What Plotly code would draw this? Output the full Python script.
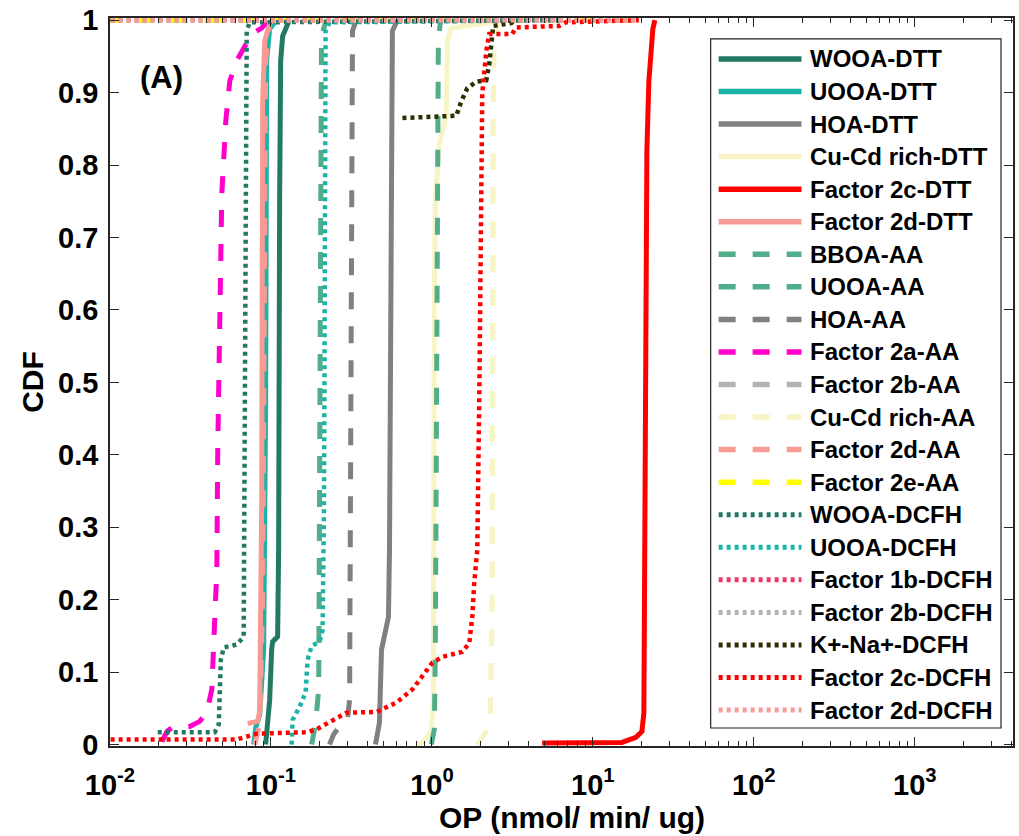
import plotly.graph_objects as go

# ---------------------------------------------------------------------------
# CDF curves of oxidative potential (OP) per source factor and assay
# values: OP in nmol/min/ug, cumulative fraction
# ---------------------------------------------------------------------------
wooa_dtt_op = [0.0927, 0.0954, 0.0982, 0.1010, 0.1024, 0.1100, 0.1116, 0.1132, 0.1149, 0.1182, 0.1269, 0.130]
wooa_dtt_cdf = [0.0, 0.028, 0.062, 0.131, 0.142, 0.149, 0.269, 0.751, 0.944, 0.978, 0.997, 1.0]

uooa_dtt_op = [0.0781, 0.0804, 0.0851, 0.0901, 0.0927, 0.0940, 0.0982, 0.1039, 0.108]
uooa_dtt_cdf = [0.0, 0.023, 0.041, 0.131, 0.475, 0.944, 0.988, 0.997, 1.0]

hoa_dtt_op = [0.446, 0.459, 0.472, 0.486, 0.507, 0.537, 0.545, 0.552, 0.560, 0.568, 0.602, 0.62]
hoa_dtt_cdf = [0.0, 0.014, 0.030, 0.131, 0.154, 0.176, 0.269, 0.613, 0.944, 0.985, 0.997, 1.0]

cucd_dtt_op = [0.812, 0.885, 0.992, 1.020, 1.035, 1.050, 1.111, 1.228, 1.246, 1.319, 1.706, 2.27, 2.4]
cucd_dtt_cdf = [0.0, 0.004, 0.018, 0.062, 0.613, 0.751, 0.829, 0.868, 0.971, 0.989, 0.993, 0.996, 1.0]

f2c_dtt_op = [4.84, 15.15, 18.50, 20.16, 20.74, 21.04, 21.34, 21.65, 22.27, 22.92, 23.58, 24.27]
f2c_dtt_cdf = [0.002, 0.003, 0.010, 0.018, 0.044, 0.338, 0.613, 0.820, 0.916, 0.964, 0.988, 1.0]

f2d_dtt_op = [0.0717, 0.0827, 0.0851, 0.0876, 0.0888, 0.0914, 0.0982, 0.103]
f2d_dtt_cdf = [0.029, 0.032, 0.046, 0.338, 0.888, 0.971, 0.996, 1.0]

bboa_aa_op = [0.179, 0.189, 0.198, 0.200, 0.203, 0.206, 0.218, 0.23]
bboa_aa_cdf = [0.0, 0.028, 0.076, 0.338, 0.888, 0.978, 0.996, 1.0]

uooa_aa_op = [0.992, 1.035, 1.050, 1.065, 1.080, 1.096, 1.127, 1.15]
uooa_aa_cdf = [0.0, 0.021, 0.131, 0.475, 0.888, 0.971, 0.996, 1.0]

hoa_aa_op = [0.231, 0.245, 0.267, 0.299, 0.308, 0.312, 0.316, 0.321, 0.335, 0.35]
hoa_aa_cdf = [0.0, 0.014, 0.025, 0.034, 0.062, 0.475, 0.944, 0.985, 0.997, 1.0]

f2a_aa_op = [0.0210, 0.0226, 0.0242, 0.0313, 0.0361, 0.0400, 0.0429, 0.0441, 0.0461, 0.0467,
             0.0481, 0.0495, 0.0524, 0.0555, 0.0613, 0.0687, 0.0759, 0.0876, 0.0954]
f2a_aa_cdf = [0.004, 0.018, 0.023, 0.025, 0.032, 0.045, 0.076, 0.145, 0.241, 0.406,
              0.613, 0.760, 0.861, 0.916, 0.944, 0.964, 0.981, 0.989, 0.999]

f2b_aa_op = [0.009, 19.3]
f2b_aa_cdf = [1.0, 1.0]

cucd_aa_op = [1.913, 2.025, 2.175, 2.301, 2.369, 2.403, 2.437, 2.544, 2.6]
cucd_aa_cdf = [0.0, 0.007, 0.018, 0.034, 0.200, 0.888, 0.971, 0.996, 1.0]

f2d_aa_op = [0.0792, 0.0851, 0.0888, 0.0914, 0.0927, 0.0982, 0.101]
f2d_aa_cdf = [0.0, 0.028, 0.200, 0.613, 0.944, 0.996, 1.0]

f2e_aa_op = [0.009, 19.3]
f2e_aa_cdf = [1.0, 1.0]

wooa_dcfh_op = [0.0198, 0.0448, 0.0474, 0.0488, 0.0509, 0.0613, 0.0677, 0.0687, 0.0697, 0.0707, 0.0738, 6.16]
wooa_dcfh_cdf = [0.017, 0.017, 0.028, 0.117, 0.134, 0.138, 0.149, 0.475, 0.888, 0.985, 0.997, 1.0]

uooa_dcfh_op = [0.1344, 0.1363, 0.1506, 0.1641, 0.1689, 0.1788, 0.2004, 0.2092, 0.2137, 0.2152, 0.2184, 0.2312, 6.16]
uooa_dcfh_cdf = [0.0, 0.034, 0.052, 0.072, 0.117, 0.136, 0.142, 0.158, 0.338, 0.944, 0.985, 0.997, 1.0]

f1b_dcfh_op = [0.009, 19.3]
f1b_dcfh_cdf = [1.0, 1.0]

f2b_dcfh_op = [0.009, 19.3]
f2b_dcfh_cdf = [1.0, 1.0]

kna_dcfh_op = [0.656, 1.417, 1.522, 1.658, 1.885, 2.175, 2.270, 2.335, 2.403, 3.108, 3.3]
kna_dcfh_cdf = [0.865, 0.868, 0.888, 0.906, 0.915, 0.917, 0.939, 0.971, 0.992, 0.996, 1.0]

f2c_dcfh_op = [0.009, 0.0613, 0.0815, 0.1665, 0.1920, 0.2413, 0.2946, 0.4522, 0.6017, 0.7559,
               0.8721, 1.006, 1.160, 1.543, 1.706, 1.781, 1.832, 1.913, 1.968, 2.025,
               2.054, 2.175, 2.270, 3.152, 3.337, 6.163, 6.811, 19.31]
f2c_dcfh_cdf = [0.007, 0.007, 0.015, 0.017, 0.021, 0.034, 0.044, 0.045, 0.058, 0.076,
                0.094, 0.113, 0.121, 0.128, 0.140, 0.176, 0.223, 0.269, 0.475, 0.751,
                0.898, 0.957, 0.981, 0.981, 0.990, 0.992, 0.997, 1.0]

f2d_dcfh_op = [0.009, 19.3]
f2d_dcfh_cdf = [1.0, 1.0]

x_tick_vals = [0.01, 0.1, 1, 10, 100, 1000]
x_tick_text = ["10<sup>-2</sup>", "10<sup>-1</sup>", "10<sup>0</sup>",
               "10<sup>1</sup>", "10<sup>2</sup>", "10<sup>3</sup>"]
y_tick_vals = [0, 0.1, 0.2, 0.3, 0.4, 0.5, 0.6, 0.7, 0.8, 0.9, 1]
y_tick_text = ["0", "0.1", "0.2", "0.3", "0.4", "0.5", "0.6", "0.7", "0.8", "0.9", "1"]

# ---------------------------------------------------------------------------
# styles
# ---------------------------------------------------------------------------
DARK_GREEN = "#237a64"
TEAL = "#1bb3a8"
GRAY = "#808080"
PALE_YELLOW = "#f7f5c6"
RED = "#ff0000"
SALMON = "#f99b95"
SEA_GREEN = "#52ad8a"
MAGENTA = "#ff00cc"
LIGHT_GRAY = "#b3b3b3"
YELLOW = "#ffff00"
CRIMSON = "#f0386c"
OLIVE = "#2e2e00"

SOLID = "solid"
DASH = "17px,17px"
DOT = "4px,4px"

series = [
    ("WOOA-DTT", wooa_dtt_op, wooa_dtt_cdf, DARK_GREEN, SOLID),
    ("UOOA-DTT", uooa_dtt_op, uooa_dtt_cdf, TEAL, SOLID),
    ("HOA-DTT", hoa_dtt_op, hoa_dtt_cdf, GRAY, SOLID),
    ("Cu-Cd rich-DTT", cucd_dtt_op, cucd_dtt_cdf, PALE_YELLOW, SOLID),
    ("Factor 2c-DTT", f2c_dtt_op, f2c_dtt_cdf, RED, SOLID),
    ("Factor 2d-DTT", f2d_dtt_op, f2d_dtt_cdf, SALMON, SOLID),
    ("BBOA-AA", bboa_aa_op, bboa_aa_cdf, SEA_GREEN, DASH),
    ("UOOA-AA", uooa_aa_op, uooa_aa_cdf, SEA_GREEN, DASH),
    ("HOA-AA", hoa_aa_op, hoa_aa_cdf, GRAY, DASH),
    ("Factor 2a-AA", f2a_aa_op, f2a_aa_cdf, MAGENTA, DASH),
    ("Factor 2b-AA", f2b_aa_op, f2b_aa_cdf, LIGHT_GRAY, DASH),
    ("Cu-Cd rich-AA", cucd_aa_op, cucd_aa_cdf, PALE_YELLOW, DASH),
    ("Factor 2d-AA", f2d_aa_op, f2d_aa_cdf, SALMON, DASH),
    ("Factor 2e-AA", f2e_aa_op, f2e_aa_cdf, YELLOW, DASH),
    ("WOOA-DCFH", wooa_dcfh_op, wooa_dcfh_cdf, DARK_GREEN, DOT),
    ("UOOA-DCFH", uooa_dcfh_op, uooa_dcfh_cdf, TEAL, DOT),
    ("Factor 1b-DCFH", f1b_dcfh_op, f1b_dcfh_cdf, CRIMSON, DOT),
    ("Factor 2b-DCFH", f2b_dcfh_op, f2b_dcfh_cdf, LIGHT_GRAY, DOT),
    ("K+-Na+-DCFH", kna_dcfh_op, kna_dcfh_cdf, OLIVE, DOT),
    ("Factor 2c-DCFH", f2c_dcfh_op, f2c_dcfh_cdf, RED, DOT),
    ("Factor 2d-DCFH", f2d_dcfh_op, f2d_dcfh_cdf, SALMON, DOT),
]

W, H = 1019, 836
PLOT_L, PLOT_R, PLOT_T, PLOT_B = 110, 1015, 17, 746
Y_RANGE = [-0.002, 1.003]
X_RANGE = [-2, 3.61]
FONT = "Arial, Liberation Sans, Helvetica, sans-serif"


def px_x(px):
    return (px - PLOT_L) / (PLOT_R - PLOT_L)


def px_y(py):
    return (PLOT_B - py) / (PLOT_B - PLOT_T)


fig = go.Figure()
for name, op, cdf, color, dash in series:
    width = 4.5 if dash == DOT else 5
    fig.add_trace(go.Scatter(
        x=op, y=cdf, mode="lines", name=name, showlegend=False,
        line=dict(color=color, width=width, dash=dash),
    ))

# boxed legend with long line samples
shapes = [dict(type="rect", xref="paper", yref="paper",
               x0=px_x(712), x1=px_x(1003), y0=px_y(728), y1=px_y(38),
               line=dict(color="#222222", width=1.2), fillcolor="white", layer="above")]
annotations = []
for i, (name, op, cdf, color, dash) in enumerate(series):
    yc = 58 + i * 32.6
    shapes.append(dict(type="line", xref="paper", yref="paper",
                       x0=px_x(720), x1=px_x(803), y0=px_y(yc), y1=px_y(yc),
                       line=dict(color=color, width=5.5 if dash != DOT else 5, dash=dash),
                       layer="above"))
    annotations.append(dict(xref="paper", yref="paper", x=px_x(810), y=px_y(yc),
                            text=f"<b>{name}</b>", showarrow=False, xanchor="left",
                            yanchor="middle", font=dict(family=FONT, size=24, color="black")))

# panel tag
annotations.append(dict(xref="paper", yref="paper", x=px_x(162), y=px_y(77),
                        text="<b>(A)</b>", showarrow=False, xanchor="center", yanchor="middle",
                        font=dict(family=FONT, size=31, color="black")))

# x-axis title
annotations.append(dict(xref="paper", yref="paper", x=px_x(573), y=px_y(818),
                        text="<b>OP (nmol/ min/ ug)</b>", showarrow=False,
                        xanchor="center", yanchor="middle",
                        font=dict(family=FONT, size=30, color="black")))

axis_common = dict(showgrid=False, zeroline=False, showline=True, linecolor="#262626",
                   linewidth=1.5, ticks="inside", tickcolor="#262626", tickwidth=1.2,
                   mirror="ticks")

fig.update_layout(
    width=W, height=H,
    margin=dict(l=PLOT_L, r=W - PLOT_R, t=PLOT_T, b=H - PLOT_B, pad=0),
    paper_bgcolor="white", plot_bgcolor="white",
    showlegend=False,
    shapes=shapes, annotations=annotations,
    xaxis=dict(type="log", range=X_RANGE, tickvals=x_tick_vals,
               ticktext=[f"<b>{t}</b>" for t in x_tick_text], ticklen=9,
               ticklabelstandoff=12,
               tickfont=dict(family=FONT, size=29, color="black"),
               minor=dict(ticks="inside", ticklen=5, tickcolor="#262626", dtick="D1", showgrid=False),
               **axis_common),
    yaxis=dict(range=Y_RANGE, tickvals=y_tick_vals,
               ticktext=[f"<b>{t}</b>" for t in y_tick_text], ticklen=9,
               ticklabelstandoff=4,
               tickfont=dict(family=FONT, size=29, color="black"),
               title=dict(text="<b>CDF</b>", font=dict(family=FONT, size=30, color="black"),
                          standoff=6),
               **axis_common),
)

fig.write_html("out.html")
